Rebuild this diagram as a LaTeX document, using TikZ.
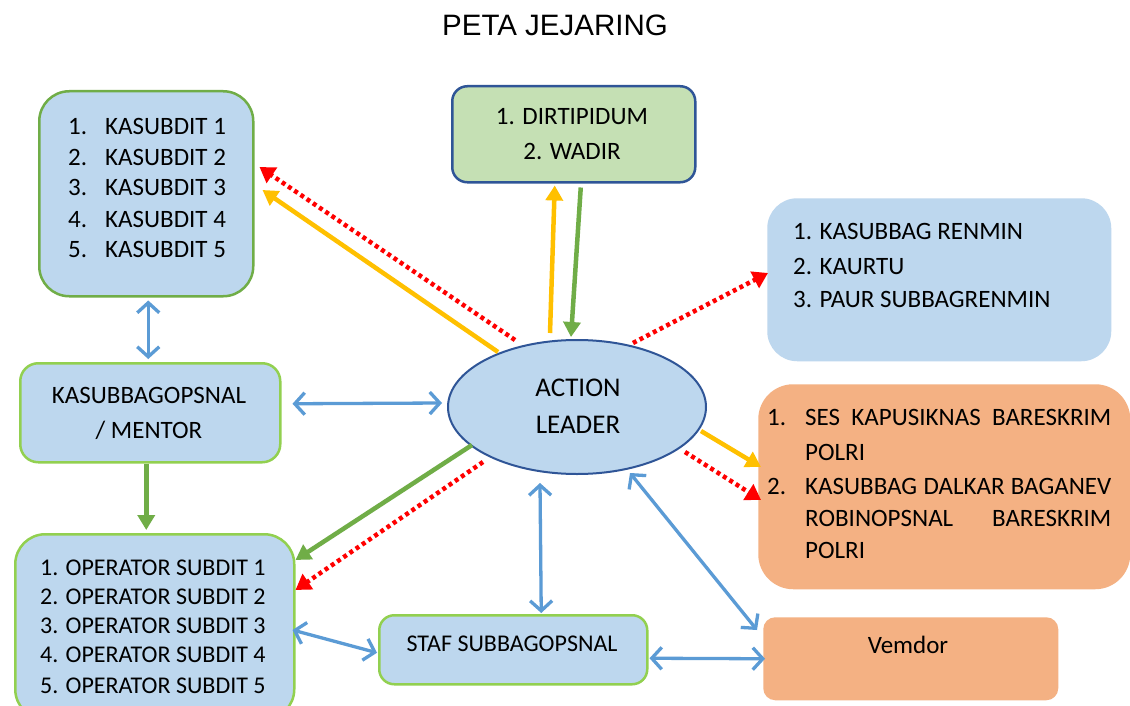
\documentclass[tikz,border=0pt]{standalone}
\usepackage{fontspec}
\setmainfont{Carlito}
\newfontfamily\titlefont{Liberation Sans}
\usetikzlibrary{arrows.meta,calc,shapes.geometric}
\definecolor{boxblue}{HTML}{BDD7EE}
\definecolor{boxgreen}{HTML}{C5E0B4}
\definecolor{dblue}{HTML}{2F5597}
\definecolor{grn}{HTML}{70AD47}
\definecolor{lgrn}{HTML}{92D050}
\definecolor{orng}{HTML}{F4B183}
\definecolor{ylw}{HTML}{FFC000}
\definecolor{redc}{HTML}{FF0000}
\definecolor{barrow}{HTML}{5B9BD5}
\tikzset{
  box/.style={rectangle, inner sep=0pt, anchor=north west, line width=2.5pt},
  tx/.style={inner sep=0pt, font=\fontsize{25}{30}\selectfont},
  tsm/.style={inner sep=0pt, font=\fontsize{24}{29}\selectfont},
  ylwarrow/.style={draw=ylw, line width=4.5pt, -{Triangle[length=15pt,width=17pt]}},
  grnarrow/.style={draw=grn, line width=4.5pt, -{Triangle[length=15pt,width=17pt]}},
  redarrow/.style={draw=redc, line width=4.5pt, dash pattern=on 4pt off 3.5pt, -{Triangle[length=15pt,width=18pt]}},
  bluearrow/.style={draw=barrow, line width=3.3pt, {Straight Barb[length=10pt,width=22pt]}-{Straight Barb[length=10pt,width=22pt]}}
}
\begin{document}
\begin{tikzpicture}[x=1pt,y=-1pt]
\useasboundingbox[fill=white] (0,0) rectangle (1130,706);
% title
\node[inner sep=0pt, anchor=base, font=\titlefont\fontsize{29.5}{34}\selectfont] (title) at (555,36) {PETA JEJARING};
% boxes
\node[box, fill=boxblue, draw=grn, minimum width=214pt, minimum height=205pt, rounded corners=30pt] (ks) at (38,90) {};
\node[box, fill=boxgreen, draw=dblue, minimum width=243pt, minimum height=96pt, rounded corners=15pt] (dt) at (451,85) {};
\node[box, fill=boxblue, draw=none, minimum width=344pt, minimum height=163pt, rounded corners=30pt] (rm) at (766,197) {};
\node[box, fill=boxblue, draw=lgrn, minimum width=260pt, minimum height=99pt, rounded corners=18pt] (mt) at (19,362) {};
\node[ellipse, fill=boxblue, draw=dblue, line width=2pt, minimum width=258pt, minimum height=134pt, inner sep=0pt] (al) at (577,407) {};
\node[box, fill=orng, draw=none, minimum width=372pt, minimum height=205pt, rounded corners=35pt] (sk) at (757,383) {};
\node[box, fill=boxblue, draw=lgrn, minimum width=279pt, minimum height=185pt, rounded corners=30pt] (op) at (14,533) {};
\node[box, fill=boxblue, draw=lgrn, minimum width=268pt, minimum height=69pt, rounded corners=15pt] (st) at (378,614) {};
\node[box, fill=orng, draw=none, minimum width=295pt, minimum height=83pt, rounded corners=12pt] (vd) at (762,616) {};
% texts
\foreach \i/\yy in {1/135,2/165,3/196,4/227,5/257}{
  \node[tx, anchor=base west] (ksn\i) at (68,\yy) {\i.};
  \node[tx, anchor=base west] (kst\i) at (105,\yy) {KASUBDIT \i};
}
\node[tx, anchor=base] (dt1) at (572,125) {1. DIRTIPIDUM};
\node[tx, anchor=base] (dt2) at (572,160) {2. WADIR};
\node[tx, anchor=base west] (rm1) at (793,239) {1. KASUBBAG RENMIN};
\node[tx, anchor=base west] (rm2) at (793,274) {2. KAURTU};
\node[tx, anchor=base west] (rm3) at (793,307) {3. PAUR SUBBAGRENMIN};
\node[tx, anchor=base] (mt1) at (149,403) {KASUBBAGOPSNAL};
\node[tx, anchor=base] (mt2) at (149,438) {/ MENTOR};
\node[tx, font=\fontsize{27}{32}\selectfont, anchor=base] (al1) at (578,396) {ACTION};
\node[tx, font=\fontsize{27}{32}\selectfont, anchor=base] (al2) at (578,433) {LEADER};
\node[tx, anchor=base west] (skn1) at (767,425) {1.};
\node[tx, anchor=base west] (skt1) at (805,425) {\makebox[306pt][s]{SES KAPUSIKNAS BARESKRIM}};
\node[tx, anchor=base west] (skt2) at (805,460) {POLRI};
\node[tx, anchor=base west] (skn2) at (767,494) {2.};
\node[tx, anchor=base west] (skt3) at (805,494) {\makebox[306pt][s]{KASUBBAG DALKAR BAGANEV}};
\node[tx, anchor=base west] (skt4) at (805,526) {\makebox[306pt][s]{ROBINOPSNAL BARESKRIM}};
\node[tx, anchor=base west] (skt5) at (805,558) {POLRI};
\foreach \i/\yy in {1/575,2/604,3/633,4/662,5/693}{
  \node[tsm, anchor=base west] (opt\i) at (40,\yy) {\i. OPERATOR SUBDIT \i};
}
\node[tsm, anchor=base] (st1) at (512,651) {STAF SUBBAGOPSNAL};
\node[tx, anchor=base] (vd1) at (908,653) {Vemdor};
% connectors
\draw[redarrow] ($(al.center)+(-62,-67)$) -- ($(ks.north east)+(5,77)$);
\draw[ylwarrow] ($(al.center)+(-79,-55)$) -- ($(ks.north east)+(8,100)$);
\draw[ylwarrow] ($(al.center)+(-27,-74)$) -- ($(dt.south)+(-19,2)$);
\draw[grnarrow] ($(dt.south)+(7,4)$) -- ($(al.center)+(-6,-70)$);
\draw[redarrow] ($(al.center)+(56,-64)$) -- ($(rm.north west)+(2,76)$);
\draw[ylwarrow] ($(al.center)+(124,24)$) -- ($(sk.north west)+(4,84)$);
\draw[redarrow] ($(al.center)+(108,45)$) -- ($(sk.north west)+(4,117)$);
\draw[grnarrow] ($(al.center)+(-105,38)$) -- ($(op.north east)+(0,27)$);
\draw[redarrow] ($(al.center)+(-94,55)$) -- ($(op.north east)+(0,57)$);
\draw[grnarrow] ($(mt.south)+(-4,0)$) -- ($(op.north)+(-8.5,-3)$);
\draw[bluearrow] ($(ks.south)+(2,3)$) -- ($(mt.north)+(-2,-3)$);
\draw[bluearrow] ($(mt.east)+(11,-9)$) -- ($(al.west)+(-5,-4)$);
\draw[bluearrow] ($(al.center)+(-37,76)$) -- ($(st.north)+(28,-1)$);
\draw[bluearrow] ($(al.center)+(53,66)$) -- ($(vd.north west)+(-5,14)$);
\draw[bluearrow] ($(op.north east)+(-3,97)$) -- ($(st.west)+(-1,3)$);
\draw[bluearrow] ($(st.east)+(1,8.5)$) -- ($(vd.west)+(3,0)$);
\end{tikzpicture}
\end{document}
